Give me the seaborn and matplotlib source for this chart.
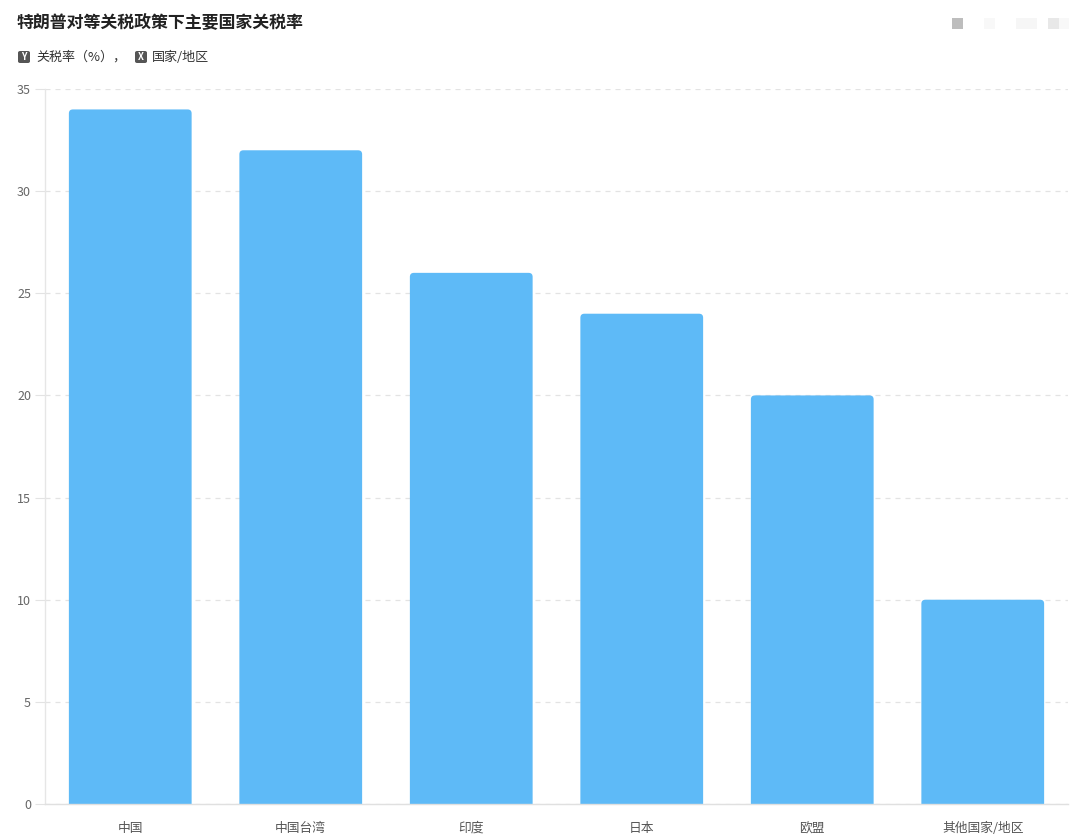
import matplotlib
matplotlib.use("Agg")
import matplotlib.pyplot as plt
import seaborn as sns
import pandas as pd
from matplotlib.patches import FancyBboxPatch, Rectangle

categories = ["中国", "中国台湾", "印度", "日本", "欧盟", "其他国家/地区"]
tariffs = [34, 32, 26, 24, 20, 10]
y_ticks = [0, 5, 10, 15, 20, 25, 30, 35]
title = "特朗普对等关税政策下主要国家关税率"
y_name = "关税率（%）"
x_name = "国家/地区"

sns.set_theme(style="white")
plt.rcParams["font.family"] = ["Noto Sans CJK SC", "DejaVu Sans"]

df = pd.DataFrame({"cat": categories, "val": tariffs})

fig = plt.figure(figsize=(10.8, 8.34), dpi=100)
ax = fig.add_axes([45 / 1080, 1 - 804 / 834, (1068 - 45) / 1080, (804 - 89) / 834])

bar_color = "#5EBAF7"
sns.barplot(data=df, x="cat", y="val", ax=ax, color=bar_color, width=0.72,
            saturation=1, edgecolor="none", zorder=3)

ax.set_ylim(0, 35)
ax.set_xlim(-0.5, len(categories) - 0.5)
ax.set_yticks(y_ticks)
ax.set_xlabel("")
ax.set_ylabel("")

# rounded top corners (bottom corners pushed below the axis and clipped)
fig.canvas.draw()
px_x = (ax.transData.transform((1, 0))[0] - ax.transData.transform((0, 0))[0])
px_y = (ax.transData.transform((0, 1))[1] - ax.transData.transform((0, 0))[1])
r_px = 4
below = 1.0
for p in list(ax.patches):
    x0, y0 = p.get_x(), p.get_y()
    w, h = p.get_width(), p.get_height()
    p.remove()
    fb = FancyBboxPatch((x0, y0 - below), w, h + below,
                        boxstyle=f"round,pad=0,rounding_size={r_px / px_x}",
                        mutation_aspect=px_x / px_y,
                        facecolor=bar_color, edgecolor="none", zorder=3)
    ax.add_patch(fb)
ax.set_ylim(0, 35)

ax.yaxis.grid(True, linestyle=(0, (4, 4)), color="#E3E3E3", linewidth=0.9, zorder=0)
ax.xaxis.grid(False)
for s in ["top", "right"]:
    ax.spines[s].set_visible(False)
ax.spines["left"].set_color("#E6E6E6")
ax.spines["left"].set_linewidth(1)
ax.spines["bottom"].set_color("#E0E0E0")
ax.spines["bottom"].set_linewidth(1)
ax.spines["bottom"].set_zorder(4)

ax.tick_params(axis="y", which="both", left=True, length=7, width=0.8, color="#E3E3E3",
               labelsize=9, labelcolor="#666666", pad=3)
ax.tick_params(axis="x", bottom=False, labelsize=9.2, labelcolor="#555555", pad=7)

# title and axis-name legend
fig.text(17 / 1080, 1 - 22 / 834, title, fontsize=12.2, fontweight="bold",
         color="#222222", va="center", ha="left")

def badge(xpx, letter):
    fig.patches.append(FancyBboxPatch((xpx / 1080, 1 - 63 / 834), 12 / 1080, 12 / 834,
                                      boxstyle="round,pad=0,rounding_size=0.002",
                                      transform=fig.transFigure, facecolor="#555555",
                                      edgecolor="none", figure=fig))
    fig.text((xpx + 6) / 1080, 1 - 57 / 834, letter, fontsize=6.8, fontweight="bold",
             color="white", ha="center", va="center")

badge(18, "Y")
fig.text(36 / 1080, 1 - 57 / 834, y_name + "，", fontsize=9.4, color="#333333",
         va="center", ha="left")
badge(135, "X")
fig.text(152 / 1080, 1 - 57 / 834, x_name, fontsize=9.4, color="#333333",
         va="center", ha="left")

# faint toolbar squares top right
for xpx, wpx, col in [(952, 11, "#BDBDBD"), (984, 11, "#F8F8F8"), (1016, 21, "#F6F6F6"),
                      (1048, 11, "#E8E8E8"), (1059, 10, "#F8F8F8")]:
    fig.patches.append(Rectangle((xpx / 1080, 1 - 29 / 834), wpx / 1080, 11 / 834,
                                 transform=fig.transFigure, facecolor=col,
                                 edgecolor="none", figure=fig))

fig.savefig("out.png", dpi=100, facecolor="white")
